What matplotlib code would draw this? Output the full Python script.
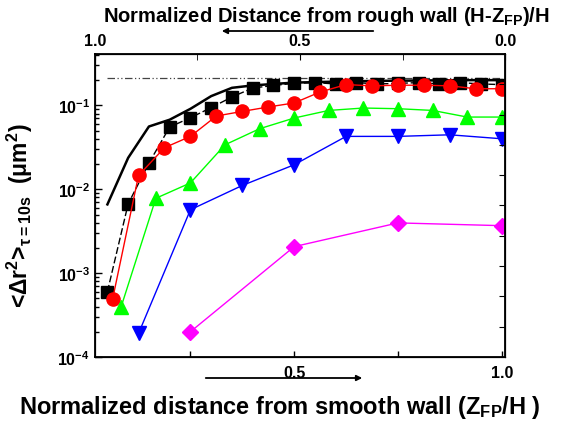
import matplotlib
matplotlib.use("Agg")
import matplotlib.pyplot as plt
import numpy as np

plt.rcParams['font.family'] = ['Liberation Sans', 'DejaVu Sans']
plt.rcParams['font.weight'] = 'bold'
plt.rcParams['mathtext.fontset'] = 'custom'
plt.rcParams['mathtext.rm'] = 'Liberation Sans:bold'
plt.rcParams['mathtext.it'] = 'Liberation Sans:bold'
plt.rcParams['mathtext.bf'] = 'Liberation Sans:bold'

# solid black curve (no markers)
solid_x = [0.05, 0.10, 0.15, 0.20, 0.25, 0.30, 0.35, 0.40, 0.45, 0.50, 0.60, 0.70, 0.80, 0.90, 1.00]
solid_y = [6.6e-3, 0.0237, 0.056, 0.0675, 0.091, 0.129, 0.162, 0.173, 0.18, 0.187, 0.192, 0.196, 0.198, 0.2, 0.2]

# reference level (dash-dot)
ref_x = [0.05, 1.0]
ref_y = [0.214, 0.214]

# black squares
sq_x = [0.05, 0.10, 0.15, 0.20, 0.25, 0.30, 0.35, 0.40, 0.45, 0.50,
        0.55, 0.60, 0.65, 0.70, 0.75, 0.80, 0.85, 0.90, 0.95, 1.00]
sq_y = [6.0e-4, 6.7e-3, 0.0205, 0.0552, 0.0713, 0.094, 0.126, 0.161, 0.173, 0.183,
        0.187, 0.18, 0.187, 0.18, 0.183, 0.187, 0.18, 0.187, 0.18, 0.177]

# red circles
ci_x = [0.0625, 0.125, 0.1875, 0.25, 0.3125, 0.375, 0.4375, 0.5,
        0.5625, 0.625, 0.6875, 0.75, 0.8125, 0.875, 0.9375, 1.0]
ci_y = [4.9e-4, 0.0146, 0.0313, 0.0427, 0.0747, 0.0848, 0.0957, 0.107,
        0.1445, 0.177, 0.171, 0.174, 0.174, 0.171, 0.158, 0.158]

# green triangles
tr_x = [1/12, 2/12, 3/12, 4/12, 5/12, 6/12, 7/12, 8/12, 9/12, 10/12, 11/12, 1.0]
tr_y = [4.0e-4, 7.8e-3, 0.0119, 0.0339, 0.0527, 0.0707, 0.0871, 0.093, 0.0913, 0.0871, 0.0726, 0.0726]

# blue down triangles
dn_x = [0.125, 0.25, 0.375, 0.5, 0.625, 0.75, 0.875, 1.0]
dn_y = [1.91e-4, 5.7e-3, 0.0111, 0.0196, 0.0427, 0.0427, 0.0446, 0.040]

# magenta diamonds
di_x = [0.25, 0.5, 0.75, 1.0]
di_y = [2.0e-4, 2.07e-3, 3.97e-3, 3.68e-3]

fig = plt.figure(figsize=(5.72, 4.27), dpi=100)
ax = fig.add_axes([0.166, 0.1616, 0.717, 0.7096])

ax.plot(ref_x, ref_y, color='#444444', lw=0.9, ls=(0, (6, 2, 1, 2, 1, 2)))
ax.plot(solid_x, solid_y, color='black', lw=1.8)
ax.plot(sq_x, sq_y, color='black', lw=1, ls=(0, (5, 2)), marker='s', ms=8,
        mfc='black', mec='black')
ax.plot(ci_x, ci_y, color='red', lw=1, marker='o', ms=9.5, mfc='red', mec='red')
ax.plot(tr_x, tr_y, color='#00ff00', lw=1, marker='^', ms=10, mfc='#00ff00', mec='#00ff00')
ax.plot(dn_x, dn_y, color='blue', lw=1, marker='v', ms=10, mfc='blue', mec='blue')
ax.plot(di_x, di_y, color='magenta', lw=1, marker='D', ms=8, mfc='magenta', mec='magenta')

ax.set_yscale('log')
ax.set_ylim(1e-4, 0.41)
ax.set_xlim(0.02, 1.008)
ax.set_yticks([1e-4, 1e-3, 1e-2, 1e-1])
ax.set_yticklabels([r'$10^{-4}$', r'$10^{-3}$', r'$10^{-2}$', r'$10^{-1}$'])
ax.set_xticks([0.5, 1.0])
ax.set_xticklabels(['0.5', '1.0'])
ax.set_xticks([0.25, 0.75], minor=True)
ax.tick_params(axis='both', which='both', direction='in', labelsize=11.5, width=1)
ax.tick_params(axis='y', which='major', length=5)
ax.tick_params(axis='y', which='minor', length=3)
ax.tick_params(axis='x', which='both', length=4, pad=6)
for s in ax.spines.values():
    s.set_linewidth(1.3)

# top axis: distance from rough wall
axt = ax.twiny()
axt.set_xlim(1.0, 0.0)
axt.set_xticks([1.0, 0.5, 0.0])
axt.set_xticklabels(['1.0', '0.5', '0.0'])
axt.set_xticks([0.75, 0.25], minor=True)
axt.tick_params(axis='x', which='both', direction='in', length=4, labelsize=11.5, pad=4)

# right axis ticks
axr = ax.twinx()
axr.set_ylim(0, 10)
axr.set_yticks(np.arange(1, 10))
axr.set_yticklabels([])
axr.tick_params(axis='y', direction='in', length=4)

ax.set_ylabel('<Δr$^2$>$_{τ=10s}$  (μm$^2$)', fontsize=16.5, fontweight='bold', labelpad=2)
ax.yaxis.set_label_coords(-0.145, 0.47)
fig.text(0.57, 0.962, 'Normalized Distance from rough wall (H-Z$_{FP}$)/H',
         ha='center', va='center', fontsize=14.5, fontweight='bold')
fig.text(0.49, 0.045, 'Normalized distance from smooth wall (Z$_{FP}$/H )',
         ha='center', va='center', fontsize=17, fontweight='bold')

fig.patches.append(matplotlib.patches.FancyArrowPatch(
    (376 / 572, 1 - 32 / 427), (219 / 572, 1 - 32 / 427), transform=fig.transFigure,
    arrowstyle='-|>', mutation_scale=8, lw=1.3, color='black'))
fig.patches.append(matplotlib.patches.FancyArrowPatch(
    (203 / 572, 1 - 379 / 427), (365 / 572, 1 - 379 / 427), transform=fig.transFigure,
    arrowstyle='-|>', mutation_scale=8, lw=1.3, color='black'))

fig.savefig('out.png', dpi=100)
